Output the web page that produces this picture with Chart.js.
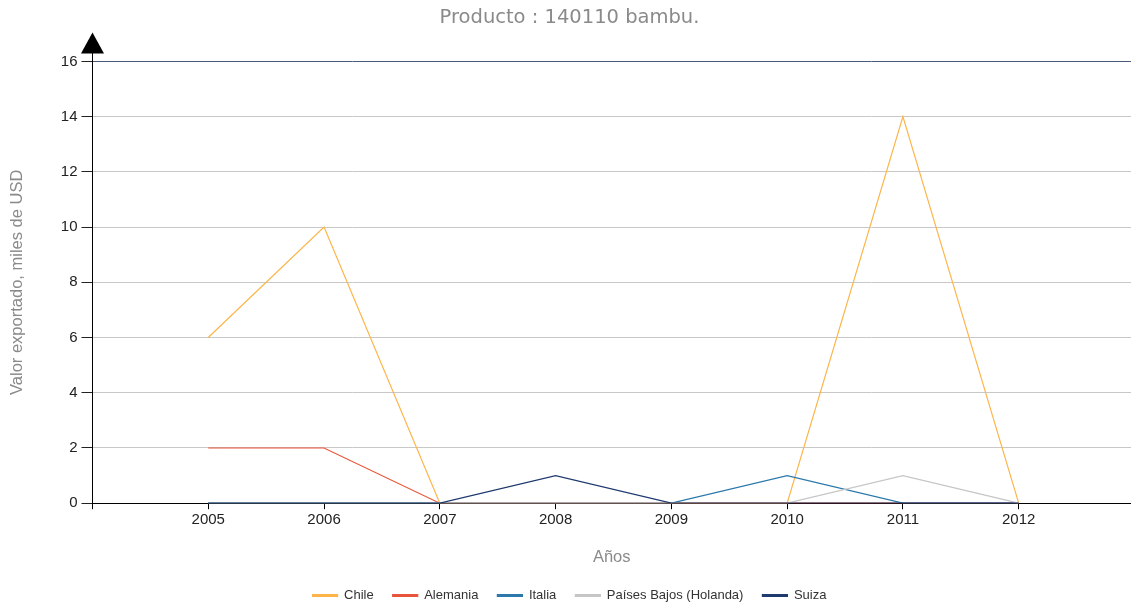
<!DOCTYPE html>
<html>
<head>
<meta charset="utf-8">
<script src="https://cdn.jsdelivr.net/npm/chart.js@4.4.1/dist/chart.umd.min.js"></script>
<style>
    html, body { margin: 0; padding: 0; background: #fff; }
    #wrap { position: relative; width: 1131px; height: 604px; }
</style>
</head>
<body>
<div id="wrap"><canvas id="lineChart" width="1131" height="604"></canvas></div>
<script>
const years = [2005, 2006, 2007, 2008, 2009, 2010, 2011, 2012];
const chileValues = [6, 10, 0, 0, 0, 0, 14, 0];
const alemaniaValues = [2, 2, 0, 0, 0, 0, 0, 0];
const italiaValues = [0, 0, 0, 0, 0, 1, 0, 0];
const paisesBajosValues = [0, 0, 0, 0, 0, 0, 1, 0];
const suizaValues = [0, 0, 0, 1, 0, 0, 0, 0];
const yTicks = [0, 2, 4, 6, 8, 10, 12, 14, 16];

function toPoints(values) {
    return years.map((y, i) => ({ x: y, y: values[i] }));
}

// flecha en el extremo superior del eje Y
const arrowPlugin = {
    id: 'yArrow',
    afterDraw(chart) {
        const ctx = chart.ctx;
        const x = chart.chartArea.left;
        const top = chart.chartArea.top;
        ctx.save();
        ctx.strokeStyle = '#000';
        ctx.lineWidth = 1;
        ctx.beginPath();
        ctx.moveTo(x, top);
        ctx.lineTo(x, top - 10);
        ctx.stroke();
        ctx.fillStyle = '#000';
        ctx.beginPath();
        ctx.moveTo(x, top - 29);
        ctx.lineTo(x - 11.5, top - 8);
        ctx.lineTo(x + 11.5, top - 8);
        ctx.closePath();
        ctx.fill();
        ctx.restore();
    }
};

const series = [
    { label: 'Chile', data: chileValues, color: '#fdb54a' },
    { label: 'Alemania', data: alemaniaValues, color: '#e9553a' },
    { label: 'Italia', data: italiaValues, color: '#2b79ac' },
    { label: 'Países Bajos (Holanda)', data: paisesBajosValues, color: '#c6c6c6' },
    { label: 'Suiza', data: suizaValues, color: '#1f3a6e' }
];

const ctx = document.getElementById('lineChart').getContext('2d');
new Chart(ctx, {
    type: 'line',
    data: {
        datasets: series.map((s, i) => ({
            label: s.label,
            data: toPoints(s.data),
            borderColor: s.color,
            backgroundColor: s.color,
            borderWidth: 1.2,
            pointRadius: 0,
            tension: 0,
            order: -i
        }))
    },
    options: {
        responsive: false,
        animation: false,
        layout: { padding: { top: 6, right: 0, left: 8, bottom: -8 } },
        plugins: {
            title: {
                display: true,
                text: 'Producto : 140110 bambu.',
                color: '#8a8a8a',
                font: { family: 'DejaVu Sans', size: 19.5, weight: 'normal' },
                padding: { top: 0, bottom: 32 }
            },
            legend: {
                position: 'bottom',
                labels: {
                    boxWidth: 25,
                    boxHeight: 2,
                    color: '#333',
                    padding: 19,
                    font: { family: 'Liberation Sans', size: 13 },
                    sort: (a, b) => a.datasetIndex - b.datasetIndex
                }
            },
            tooltip: { enabled: false }
        },
        scales: {
            x: {
                type: 'linear',
                min: 2004,
                max: 2012.97,
                afterBuildTicks: axis => {
                    axis.ticks = [2004].concat(years).map(v => ({ value: v }));
                },
                ticks: {
                    color: '#222',
                    font: { family: 'Liberation Sans', size: 15 },
                    padding: 2,
                    maxRotation: 0,
                    callback: v => (v === 2004 ? '' : String(v))
                },
                grid: {
                    drawOnChartArea: false,
                    tickLength: 6,
                    tickColor: '#000'
                },
                border: { color: '#000', width: 1 },
                title: {
                    display: true,
                    text: 'Años',
                    color: '#8a8a8a',
                    font: { family: 'Liberation Sans', size: 16.5 },
                    padding: { top: 16, bottom: 3 }
                }
            },
            y: {
                min: 0,
                max: 16,
                afterBuildTicks: axis => {
                    axis.ticks = yTicks.map(v => ({ value: v }));
                },
                ticks: {
                    color: '#222',
                    font: { family: 'Liberation Sans', size: 15 },
                    padding: 4
                },
                grid: {
                    color: c => (c.tick && c.tick.value === 16 ? '#475a78' : '#c8c8c8'),
                    tickColor: '#222',
                    tickLength: 11
                },
                border: { color: '#000', width: 1 },
                title: {
                    display: true,
                    text: 'Valor exportado, miles de USD',
                    color: '#8a8a8a',
                    font: { family: 'Liberation Sans', size: 16.5 },
                    padding: { top: 0, bottom: 29 }
                }
            }
        }
    },
    plugins: [arrowPlugin]
});
</script>
</body>
</html>
